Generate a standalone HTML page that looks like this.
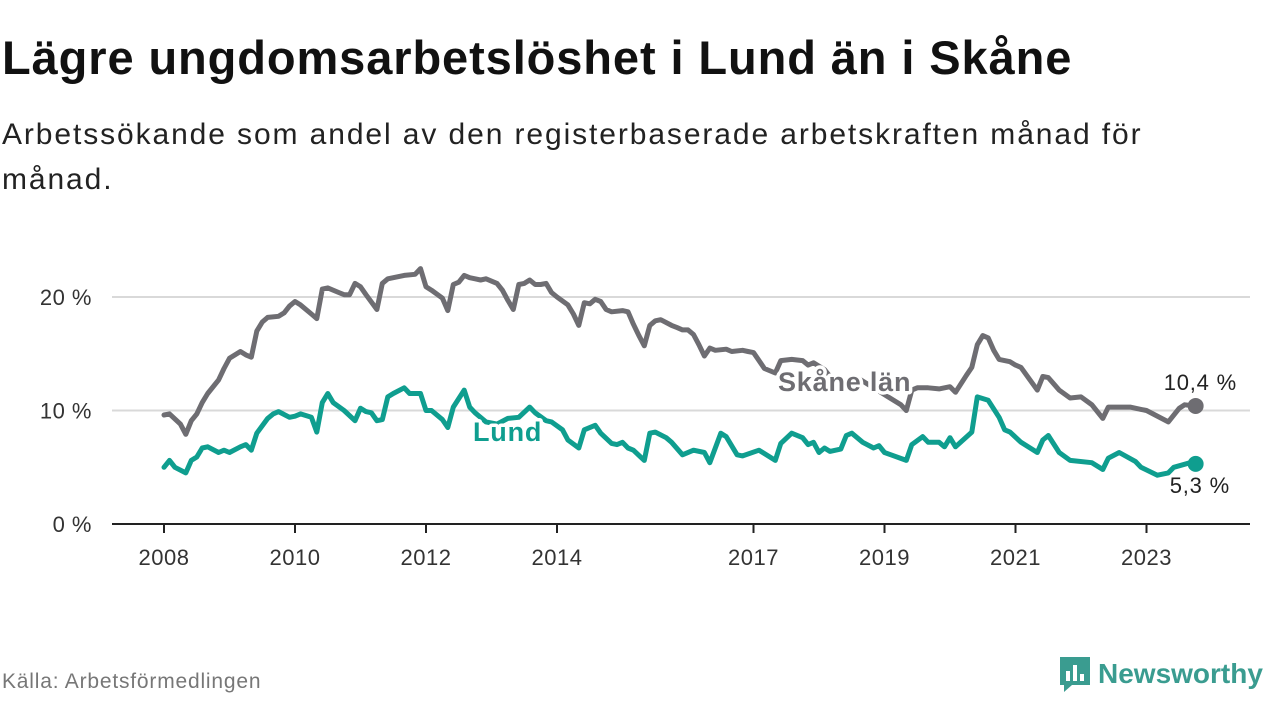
<!DOCTYPE html>
<html><head><meta charset="utf-8"><style>
body{margin:0;width:1280px;height:720px;background:#fff;font-family:"Liberation Sans","DejaVu Sans",sans-serif;overflow:hidden;position:relative}
#title{position:absolute;left:2px;top:30px;font-size:47px;font-weight:bold;color:#111;margin:0;letter-spacing:0.9px;white-space:nowrap}
#sub{position:absolute;left:2px;top:112px;font-size:30px;color:#222;line-height:45px;width:1190px;letter-spacing:1.9px}
#src{position:absolute;left:2px;top:670px;font-size:21px;color:#777;letter-spacing:0.8px}
#logo{position:absolute;left:1058px;top:655px;display:flex;align-items:center;color:#3a9c90;font-size:28px;font-weight:bold}
</style></head><body>
<h1 id="title">Lägre ungdomsarbetslöshet i Lund än i Skåne</h1>
<div id="sub">Arbetssökande som andel av den registerbaserade arbetskraften månad för månad.</div>
<svg id="chart" width="1280" height="720" style="position:absolute;left:0;top:0"></svg>
<div id="src">Källa: Arbetsförmedlingen</div>
<div id="logo"><svg width="34" height="38" viewBox="0 0 34 38"><path d="M2 2h30v28h-18l-8 7v-7h-4z" fill="#3a9c90"/><rect x="8" y="16" width="4" height="10" fill="#fff"/><rect x="15" y="10" width="4" height="16" fill="#fff"/><rect x="22" y="19" width="4" height="7" fill="#fff"/></svg><span style="margin-left:6px">Newsworthy</span></div>
<script>
const yTicks=[0,10,20];
const yTickLabels=["0 %","10 %","20 %"];
const xTicks=[2008,2010,2012,2014,2017,2019,2021,2023];
const skaneMonths=[0,1,3,4,5,6,7,8,10,11,12,14,15,16,17,18,19,21,22,23,24,25,27,28,29,30,32,33,34,35,36,37,39,40,41,43,44,46,47,48,49,51,52,53,54,55,56,57,58,59,61,62,63,64,65,66,67,68,69,70,71,72,74,75,76,77,78,79,80,81,82,84,85,86,87,88,89,90,91,93,94,95,96,97,98,99,100,101,103,104,106,107,108,109,110,112,113,115,117,118,119,121,124,127,129,132,135,136,137,138,140,142,144,145,147,148,149,150,151,152,153,155,156,157,160,161,162,164,166,168,170,172,173,177,179,180,184,186,187,189];
const skaneValues=[9.6,9.7,8.8,7.9,9.1,9.7,10.7,11.5,12.7,13.7,14.6,15.2,14.9,14.7,17.0,17.8,18.2,18.3,18.6,19.2,19.6,19.3,18.5,18.1,20.7,20.8,20.4,20.2,20.2,21.2,20.9,20.2,18.9,21.2,21.6,21.8,21.9,22.0,22.5,20.9,20.6,19.9,18.8,21.1,21.3,21.9,21.7,21.6,21.5,21.6,21.2,20.6,19.7,18.9,21.1,21.2,21.5,21.1,21.1,21.2,20.4,20.0,19.3,18.5,17.5,19.5,19.4,19.8,19.6,18.9,18.7,18.8,18.7,17.6,16.6,15.7,17.5,17.9,18.0,17.5,17.3,17.1,17.1,16.7,15.8,14.8,15.5,15.3,15.4,15.2,15.3,15.2,15.1,14.4,13.7,13.3,14.4,14.5,14.4,14.0,14.2,13.6,11.8,12.9,12.3,11.4,10.5,10.0,11.8,12.0,12.0,11.9,12.1,11.6,13.1,13.8,15.8,16.6,16.4,15.3,14.5,14.3,14.0,13.8,11.8,13.0,12.9,11.8,11.1,11.2,10.5,9.3,10.3,10.3,10.1,10.0,9.0,10.2,10.5,10.4];
const lundMonths=[0,1,2,4,5,6,7,8,10,11,12,14,15,16,17,19,20,21,23,24,25,27,28,29,30,31,33,35,36,37,38,39,40,41,42,44,45,47,48,49,51,52,53,55,56,57,59,61,63,65,67,68,70,71,73,74,76,77,79,80,82,83,84,85,86,88,89,90,92,93,95,97,99,100,102,103,105,106,109,112,113,115,117,118,119,120,121,122,124,125,126,128,130,131,132,136,137,139,140,142,143,144,145,148,149,151,153,154,155,157,160,161,162,164,166,170,172,173,175,178,179,182,184,185,188,189];
const lundValues=[5.0,5.6,5.0,4.5,5.6,5.9,6.7,6.8,6.3,6.5,6.3,6.8,7.0,6.5,8.0,9.3,9.7,9.9,9.4,9.5,9.7,9.4,8.1,10.7,11.5,10.7,10.0,9.1,10.2,9.9,9.8,9.1,9.2,11.2,11.5,12.0,11.5,11.5,10.0,10.0,9.2,8.5,10.3,11.8,10.3,9.8,9.0,8.8,9.3,9.4,10.3,9.8,9.1,9.0,8.3,7.4,6.7,8.3,8.7,8.0,7.1,7.0,7.2,6.7,6.5,5.6,8.0,8.1,7.6,7.2,6.1,6.5,6.3,5.4,8.0,7.7,6.1,6.0,6.5,5.6,7.1,8.0,7.6,7.0,7.2,6.3,6.7,6.4,6.6,7.8,8.0,7.2,6.7,6.9,6.3,5.6,7.0,7.7,7.2,7.2,6.8,7.6,6.8,8.1,11.2,10.9,9.4,8.3,8.1,7.2,6.3,7.4,7.8,6.3,5.6,5.4,4.8,5.8,6.3,5.5,5.0,4.3,4.5,5.0,5.4,5.3];
const NS='http://www.w3.org/2000/svg';
const svg=document.getElementById('chart');
const X0=164,PXY=65.5,Y0=524,PXV=11.35;
function xm(m){return X0+m*PXY/12;}
function xy(y){return X0+(y-2008)*PXY;}
function yv(v){return Y0-v*PXV;}
function mk(t,a){const e=document.createElementNS(NS,t);for(const k in a)e.setAttribute(k,a[k]);svg.appendChild(e);return e;}
yTicks.forEach((t,i)=>{
 if(t>0){const g=mk('line',{x1:112,x2:1250,y1:yv(t),y2:yv(t),stroke:'#d9d9d9','stroke-width':2});
 
 }
 const l=mk('text',{x:92,y:yv(t)+8,'text-anchor':'end','font-size':22,fill:'#333','letter-spacing':0.5});
 l.textContent=yTickLabels[i];
 
 
});
const ax=mk('line',{x1:112,x2:1250,y1:Y0,y2:Y0,stroke:'#222','stroke-width':2});


xTicks.forEach(t=>{
 const tk=mk('line',{x1:xy(t),x2:xy(t),y1:Y0,y2:Y0+9,stroke:'#222','stroke-width':2});
 
 
 const l=mk('text',{x:xy(t),y:565,'text-anchor':'middle','font-size':22,fill:'#333','letter-spacing':0.5});
 l.textContent=t;
 
 
});
function line(ms,vs,col,name){
 const d=ms.map((m,i)=>(i?'L':'M')+xm(m).toFixed(1)+' '+yv(vs[i]).toFixed(1)).join(' ');
 const p=mk('path',{d:d,fill:'none',stroke:col,'stroke-width':5,'stroke-linejoin':'round','stroke-linecap':'round'});
 
 
 const n=ms.length-1;
 const c=mk('circle',{cx:xm(ms[n]),cy:yv(vs[n]),r:8,fill:col});
 
 
}
line(skaneMonths,skaneValues,'#6e6d72','skane-line');
line(lundMonths,lundValues,'#0f9e8f','lund-line');
function lab(x,y,txt,col,bold,name,anchor){
 const t=mk('text',{x:x,y:y,'font-size':bold?27:22,'font-weight':bold?'bold':'normal',fill:col,stroke:'#fff','stroke-width':bold?7:5,'paint-order':'stroke','stroke-linejoin':'round','text-anchor':anchor||'start','letter-spacing':0.8});
 t.textContent=txt;
 
 
}
lab(778,391,'Skåne län','#6e6d72',true,'skane-series-label');
lab(473,441,'Lund','#0f9e8f',true,'lund-series-label');
const ls=skaneValues.length-1, ll=lundValues.length-1;
lab(1237,390,skaneValues[ls].toFixed(1).replace('.',',')+' %','#222',false,'skane-end-value','end');
lab(1230,493,lundValues[ll].toFixed(1).replace('.',',')+' %','#222',false,'lund-end-value','end');
</script>
</body></html>
